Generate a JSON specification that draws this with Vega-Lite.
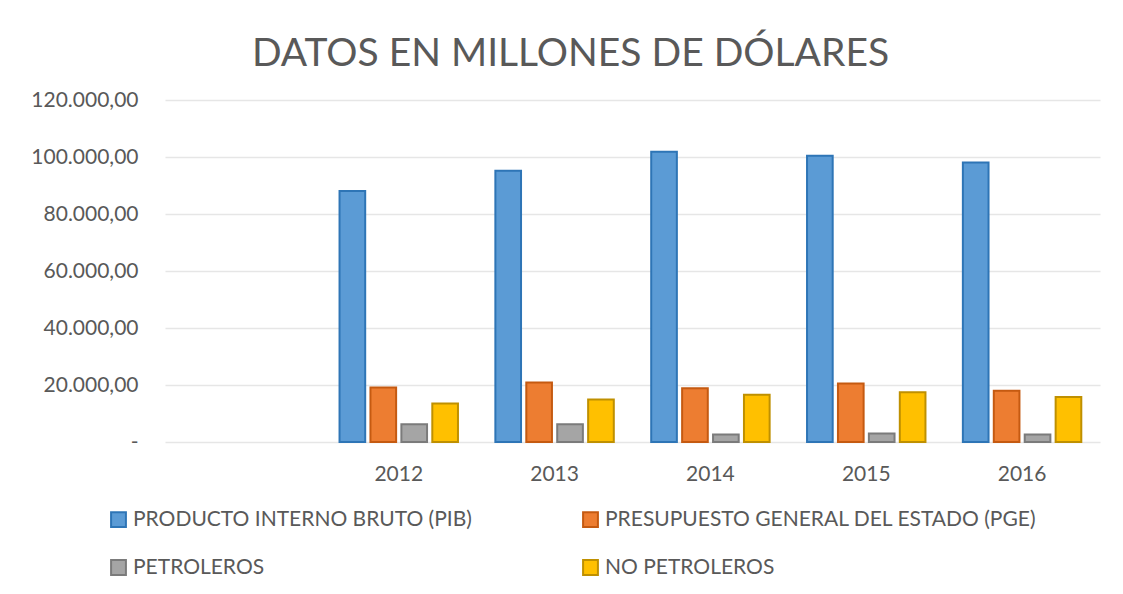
{
  "$schema": "https://vega.github.io/schema/vega-lite/v6.json",
  "width": 935,
  "height": 342,
  "autosize": "none",
  "padding": {"left": 165, "top": 100, "right": 23, "bottom": 152},
  "background": "white",
  "config": {
    "locale": {"number": {"decimal": ",", "thousands": ".", "grouping": [3], "currency": ["$", ""]}},
    "font": "Lato",
    "view": {"stroke": null}
  },
  "title": {
    "text": "DATOS EN MILLONES DE DÓLARES",
    "fontSize": 39,
    "font": "Lato",
    "fontWeight": "normal",
    "color": "#595959",
    "anchor": "middle",
    "dx": -62,
    "offset": 15
  },
  "data": {
    "values": [
      {"year": "2012", "serie": "PRODUCTO INTERNO BRUTO (PIB)", "valor": 88100},
      {"year": "2012", "serie": "PRESUPUESTO  GENERAL DEL ESTADO (PGE)", "valor": 19100},
      {"year": "2012", "serie": "PETROLEROS", "valor": 6200},
      {"year": "2012", "serie": "NO PETROLEROS", "valor": 13500},
      {"year": "2013", "serie": "PRODUCTO INTERNO BRUTO (PIB)", "valor": 95200},
      {"year": "2013", "serie": "PRESUPUESTO  GENERAL DEL ESTADO (PGE)", "valor": 20900},
      {"year": "2013", "serie": "PETROLEROS", "valor": 6200},
      {"year": "2013", "serie": "NO PETROLEROS", "valor": 14900},
      {"year": "2014", "serie": "PRODUCTO INTERNO BRUTO (PIB)", "valor": 101800},
      {"year": "2014", "serie": "PRESUPUESTO  GENERAL DEL ESTADO (PGE)", "valor": 18900},
      {"year": "2014", "serie": "PETROLEROS", "valor": 2600},
      {"year": "2014", "serie": "NO PETROLEROS", "valor": 16600},
      {"year": "2015", "serie": "PRODUCTO INTERNO BRUTO (PIB)", "valor": 100400},
      {"year": "2015", "serie": "PRESUPUESTO  GENERAL DEL ESTADO (PGE)", "valor": 20500},
      {"year": "2015", "serie": "PETROLEROS", "valor": 3000},
      {"year": "2015", "serie": "NO PETROLEROS", "valor": 17500},
      {"year": "2016", "serie": "PRODUCTO INTERNO BRUTO (PIB)", "valor": 98100},
      {"year": "2016", "serie": "PRESUPUESTO  GENERAL DEL ESTADO (PGE)", "valor": 18000},
      {"year": "2016", "serie": "PETROLEROS", "valor": 2600},
      {"year": "2016", "serie": "NO PETROLEROS", "valor": 15800}
    ]
  },
  "mark": {"type": "bar", "strokeWidth": 2},
  "encoding": {
    "x": {
      "field": "year",
      "type": "nominal",
      "scale": {"domain": [" ", "2012", "2013", "2014", "2015", "2016"], "paddingInner": 0.24, "paddingOuter": 0.12},
      "axis": {
        "title": null,
        "labelAngle": 0,
        "domain": false,
        "ticks": false,
        "labelFontSize": 21,
        "labelColor": "#595959",
        "labelPadding": 21
      }
    },
    "xOffset": {
      "field": "serie",
      "type": "nominal",
      "sort": ["PRODUCTO INTERNO BRUTO (PIB)", "PRESUPUESTO  GENERAL DEL ESTADO (PGE)", "PETROLEROS", "NO PETROLEROS"],
      "scale": {"paddingInner": 0.17}
    },
    "y": {
      "field": "valor",
      "type": "quantitative",
      "scale": {"domain": [0, 120000]},
      "axis": {
        "title": null,
        "values": [0, 20000, 40000, 60000, 80000, 100000, 120000],
        "format": ",.2f",
        "labelExpr": "datum.value == 0 ? '-' : datum.label",
        "domain": false,
        "ticks": false,
        "labelFontSize": 21,
        "labelColor": "#595959",
        "labelPadding": 27,
        "gridColor": "#e6e6e6",
        "gridWidth": 1.5
      }
    },
    "color": {
      "field": "serie",
      "type": "nominal",
      "sort": ["PRODUCTO INTERNO BRUTO (PIB)", "PRESUPUESTO  GENERAL DEL ESTADO (PGE)", "PETROLEROS", "NO PETROLEROS"],
      "scale": {
        "domain": ["PRODUCTO INTERNO BRUTO (PIB)", "PRESUPUESTO  GENERAL DEL ESTADO (PGE)", "PETROLEROS", "NO PETROLEROS"],
        "range": ["#5B9BD5", "#ED7D31", "#A5A5A5", "#FFC000"]
      },
      "legend": {
        "title": null,
        "orient": "none",
        "legendX": -57,
        "legendY": 409,
        "direction": "horizontal",
        "columns": 2,
        "columnPadding": 107,
        "rowPadding": 25,
        "symbolType": "square",
        "symbolSize": 220,
        "symbolStrokeWidth": 2,
        "labelFontSize": 21,
        "labelColor": "#595959",
        "labelOffset": 4,
        "labelLimit": 500
      }
    },
    "stroke": {
      "field": "serie",
      "type": "nominal",
      "scale": {
        "domain": ["PRODUCTO INTERNO BRUTO (PIB)", "PRESUPUESTO  GENERAL DEL ESTADO (PGE)", "PETROLEROS", "NO PETROLEROS"],
        "range": ["#2E75B6", "#C55A11", "#7B7B7B", "#BF9000"]
      },
      "legend": null
    }
  }
}
